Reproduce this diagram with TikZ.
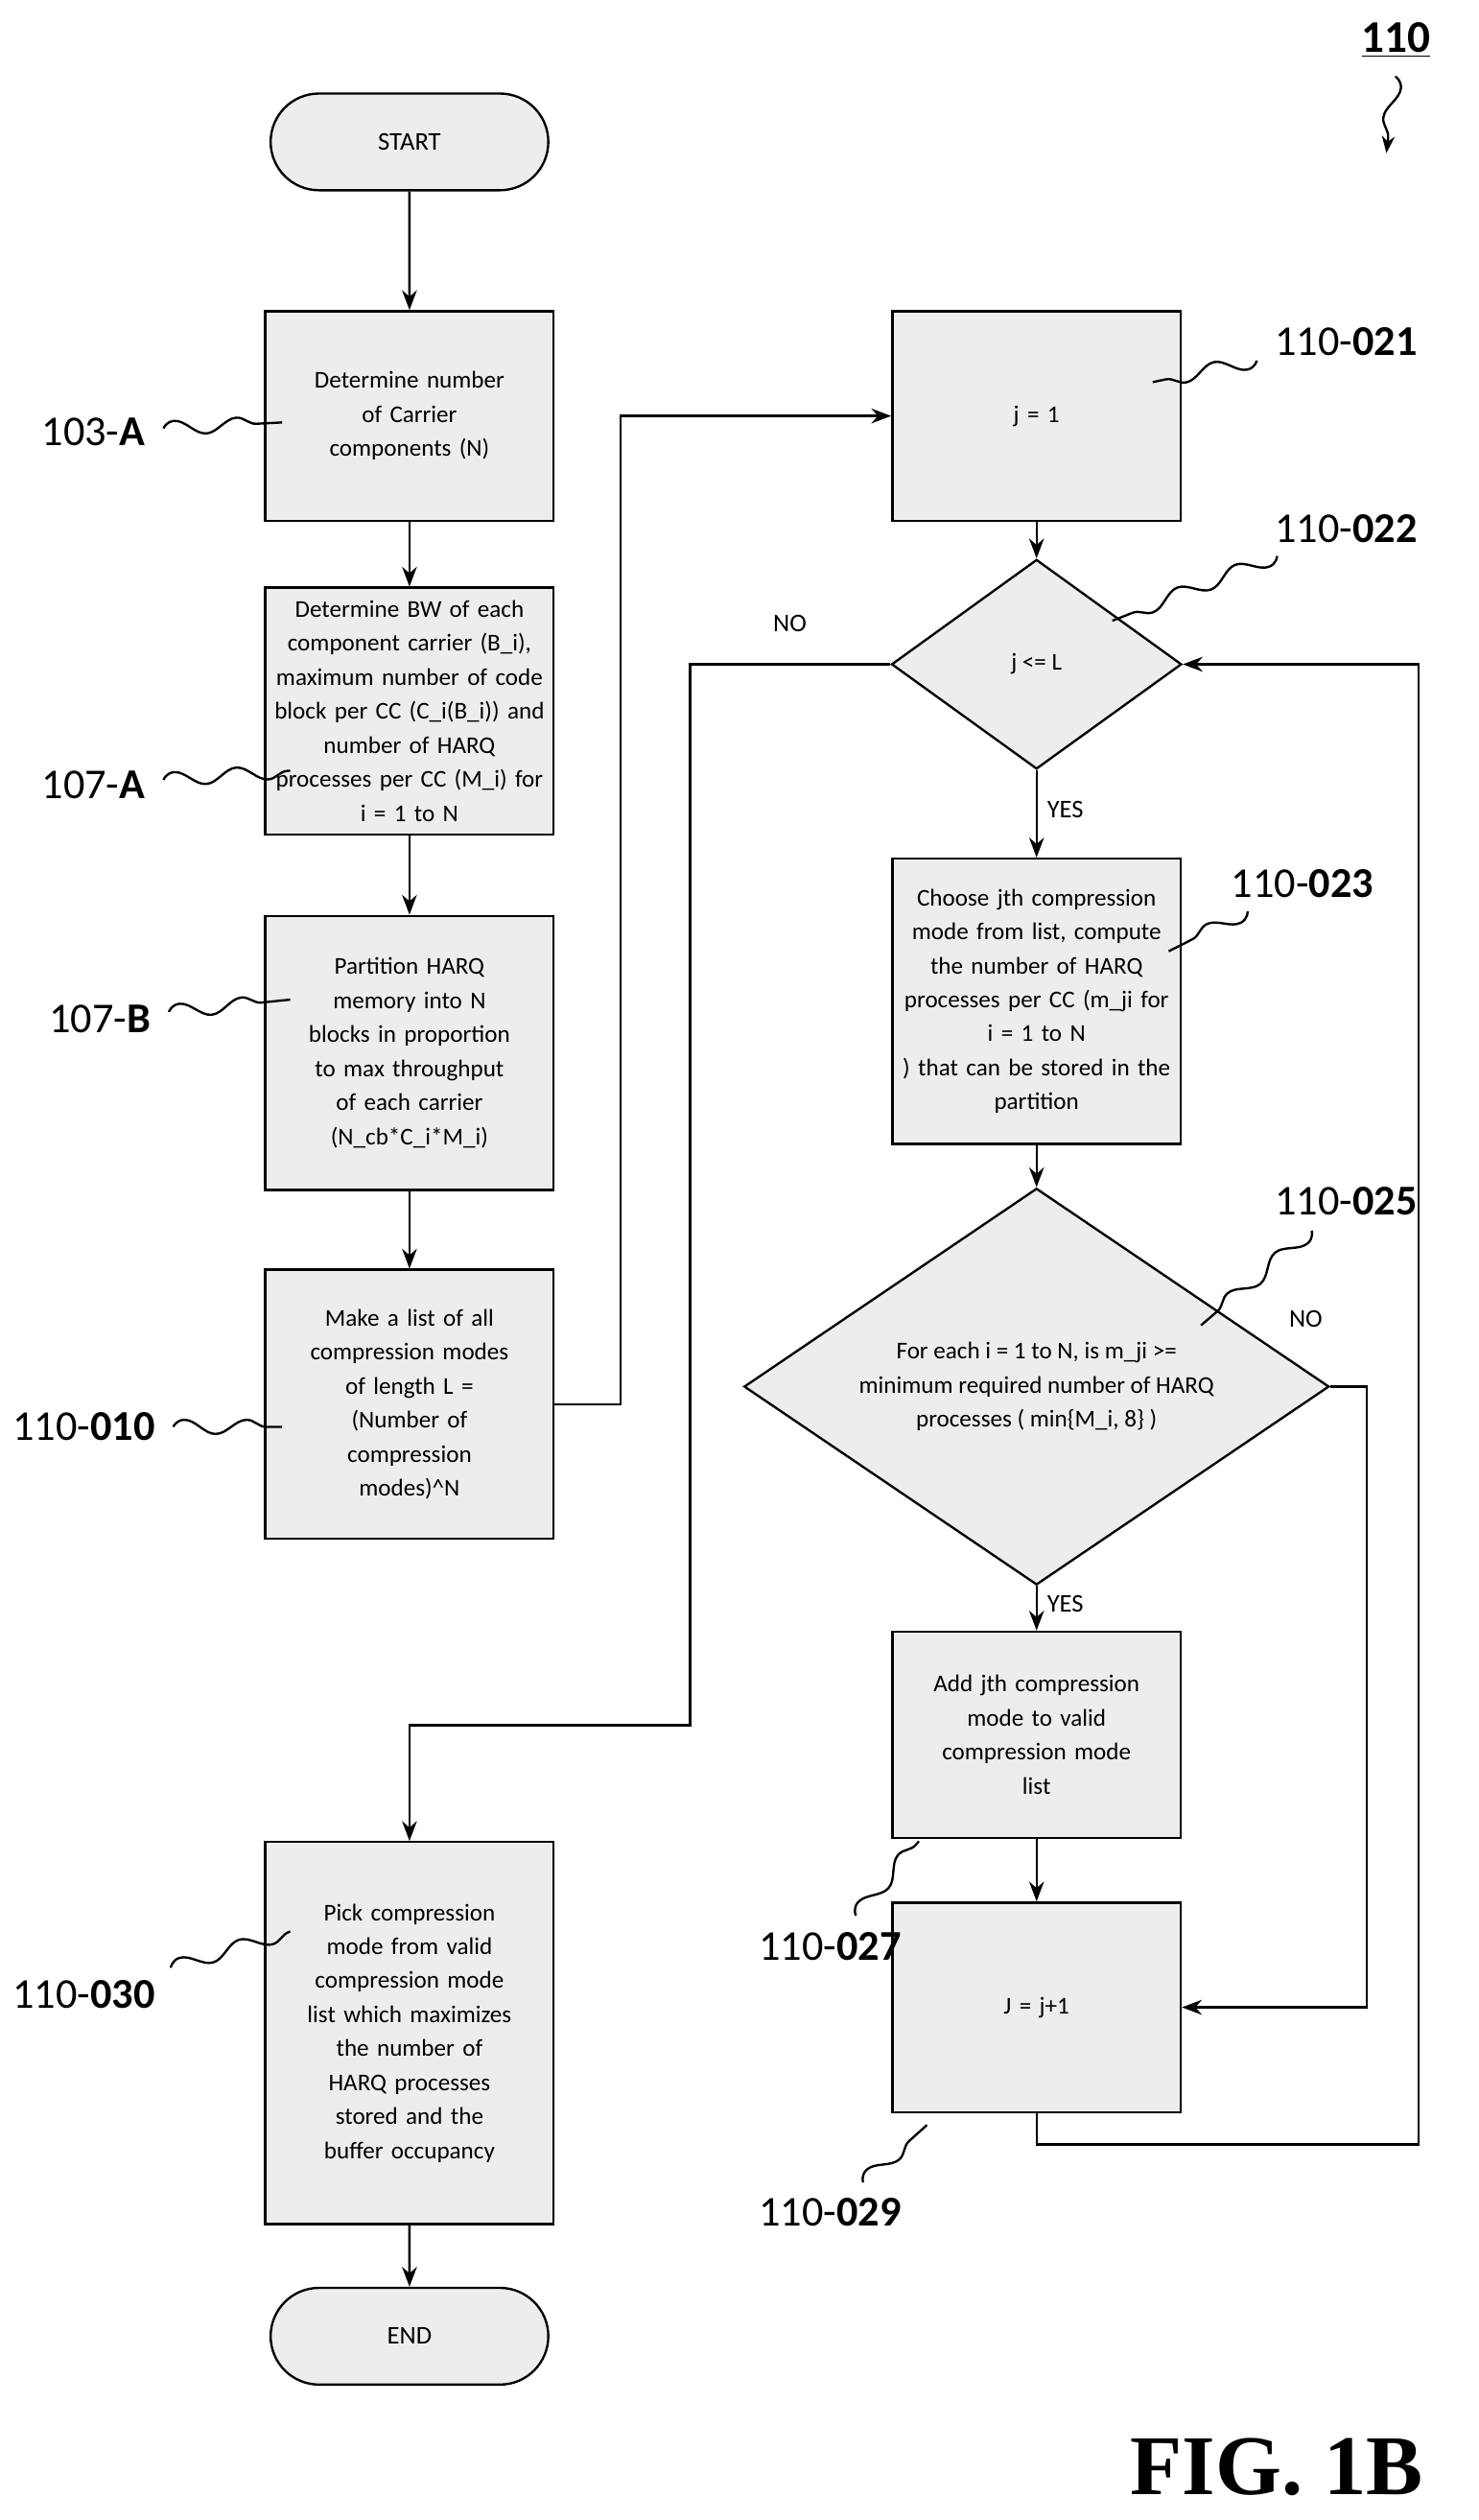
\documentclass[tikz,border=0pt]{standalone}
\usepackage{fontspec}
\setmainfont{Carlito}
\usetikzlibrary{shapes.geometric,shapes.misc,decorations.pathmorphing,arrows.meta}
\newcommand{\refLabel}[4]{%%
  %% A reference numeral with its wavy leader.
  \node[refStyle] (#1) at (#2) {#3};
  \draw[squigStyle] (#1) -- (#4);
}
\begin{document}
\begin{tikzpicture}[x=0.02cm,y=-0.02cm,%%
  boxStyle/.style={draw,thick,fill=gray!14,minimum width=3.58cm,text width=3.5cm,inner xsep=0.04cm,align=center,font=\fontsize{8.5}{12}\selectfont},%%
  termStyle/.style={draw,thick,fill=gray!14,rounded rectangle,minimum width=3.68cm,minimum height=1.2cm,font=\fontsize{9}{13}\selectfont},%%
  decStyle/.style={draw,thick,fill=gray!14,diamond,aspect=#1,inner sep=0pt,align=center,font=\fontsize{8.5}{12}\selectfont},%%
  flowStyle/.style={thick,-{Stealth[length=7pt]}},%%
  squigStyle/.style={thick,shorten <=3pt,decorate,decoration={snake,amplitude=2.5pt,segment length=22pt}},%%
  refStyle/.style={font=\fontsize{15}{17}\selectfont},%%
  tagStyle/.style={font=\fontsize{9}{11}\selectfont}
]
\useasboundingbox (0,0) rectangle (917,1563);
%% Left column.
\node[termStyle] (start) at (254,88) {START};
\node[boxStyle,minimum height=2.6cm] (count) at (254,258) {Determine number\\of Carrier\\components (N)};
\node[boxStyle,minimum height=3.06cm] (bw) at (254,441) {Determine BW of each\\component carrier (B\_i),\\maximum number of code\\block per CC (C\_i(B\_i)) and\\number of HARQ\\processes per CC (M\_i) for\\i = 1 to N};
\node[boxStyle,minimum height=3.4cm] (part) at (254,653) {Partition HARQ\\memory into N\\blocks in proportion\\to max throughput\\of each carrier\\(N\_cb*C\_i*M\_i)};
\node[boxStyle,minimum height=3.34cm] (list) at (254,871) {Make a list of all\\compression modes\\of length L =\\(Number of\\compression\\modes)\^{}N};
\node[boxStyle,minimum height=4.74cm] (pick) at (254,1261) {Pick compression\\mode from valid\\compression mode\\list which maximizes\\the number of\\HARQ processes\\stored and the\\buffer occupancy};
\node[termStyle] (end) at (254,1449) {END};
%% Right column.
\node[boxStyle,minimum height=2.6cm] (init) at (643,258) {j = 1};
\node[decStyle=1.38,minimum width=3.6cm,minimum height=2.6cm] (test) at (643,412) {j <= L};
\node[boxStyle,minimum height=3.54cm] (choose) at (643,621) {Choose jth compression\\mode from list, compute\\the number of HARQ\\processes per CC (m\_ji for\\i = 1 to N\\) that can be stored in the\\partition};
\node[decStyle=1.48,minimum width=7.26cm,minimum height=4.92cm] (check) at (643,860) {For each i = 1 to N, is m\_ji >=\\minimum required number of HARQ\\processes ( min\{M\_i, 8\} )};
\node[boxStyle,minimum height=2.56cm] (add) at (643,1076) {Add jth compression\\mode to valid\\compression mode\\list};
\node[boxStyle,minimum height=2.6cm] (incr) at (643,1245) {J = j+1};
\coordinate (loopA) at (880,1330);
%% Connectors.
\draw[flowStyle] (start) -- (count);
\draw[flowStyle] (count) -- (bw);
\draw[flowStyle] (bw) -- (part);
\draw[flowStyle] (part) -- (list);
\draw[flowStyle] (pick) -- (end);
\draw[flowStyle] (list.east) -- (385,871) -- (385,258) -- (init.west);
\draw[flowStyle] (init) -- (test);
\draw[flowStyle] (test.west) -- (428,412) -- (428,1070) -- (254,1070) -- (pick.north);
\draw[flowStyle] (test) -- node[tagStyle,right,pos=0.45] {YES} (choose);
\draw[flowStyle] (choose) -- (check);
\draw[flowStyle] (check) -- node[tagStyle,right,pos=0.4] {YES} (add);
\draw[flowStyle] (add) -- (incr);
\draw[flowStyle] (check.east) -- (848,860) -- (848,1245) -- (incr.east);
\draw[flowStyle] (incr.south) -- (643,1330) -- (loopA) -- (880,412) -- (test.east);
\node[tagStyle] (no1) at (490,387) {NO};
\node[tagStyle] (no2) at (810,818) {NO};
%% Reference numerals.
\refLabel{r103}{58,268}{103-\textbf{A}}{175,262}
\refLabel{r107a}{58,487}{107-\textbf{A}}{180,478}
\refLabel{r107b}{62,632}{107-\textbf{B}}{180,620}
\refLabel{r110a}{52,885}{110-\textbf{010}}{175,885}
\refLabel{r110b}{52,1237}{110-\textbf{030}}{180,1198}
\refLabel{r021}{835,212}{110-\textbf{021}}{715,237}
\refLabel{r022}{835,328}{110-\textbf{022}}{690,385}
\refLabel{r023}{808,548}{110-\textbf{023}}{725,590}
\refLabel{r025}{835,745}{110-\textbf{025}}{745,822}
\refLabel{r027}{515,1207}{110-\textbf{027}}{570,1142}
\refLabel{r029}{515,1372}{110-\textbf{029}}{575,1318}
%% Figure number.
\node[font=\fontsize{16}{18}\selectfont\bfseries] (fignum) at (866,25) {\underline{110}};
\draw[squigStyle,-{Stealth[length=6pt]}] (fignum.south) -- (860,95);
\node[font=\fontspec{Liberation Serif}\fontsize{30}{32}\selectfont\bfseries] (fig) at (792,1530) {FIG. 1B};
\end{tikzpicture}
\end{document}
